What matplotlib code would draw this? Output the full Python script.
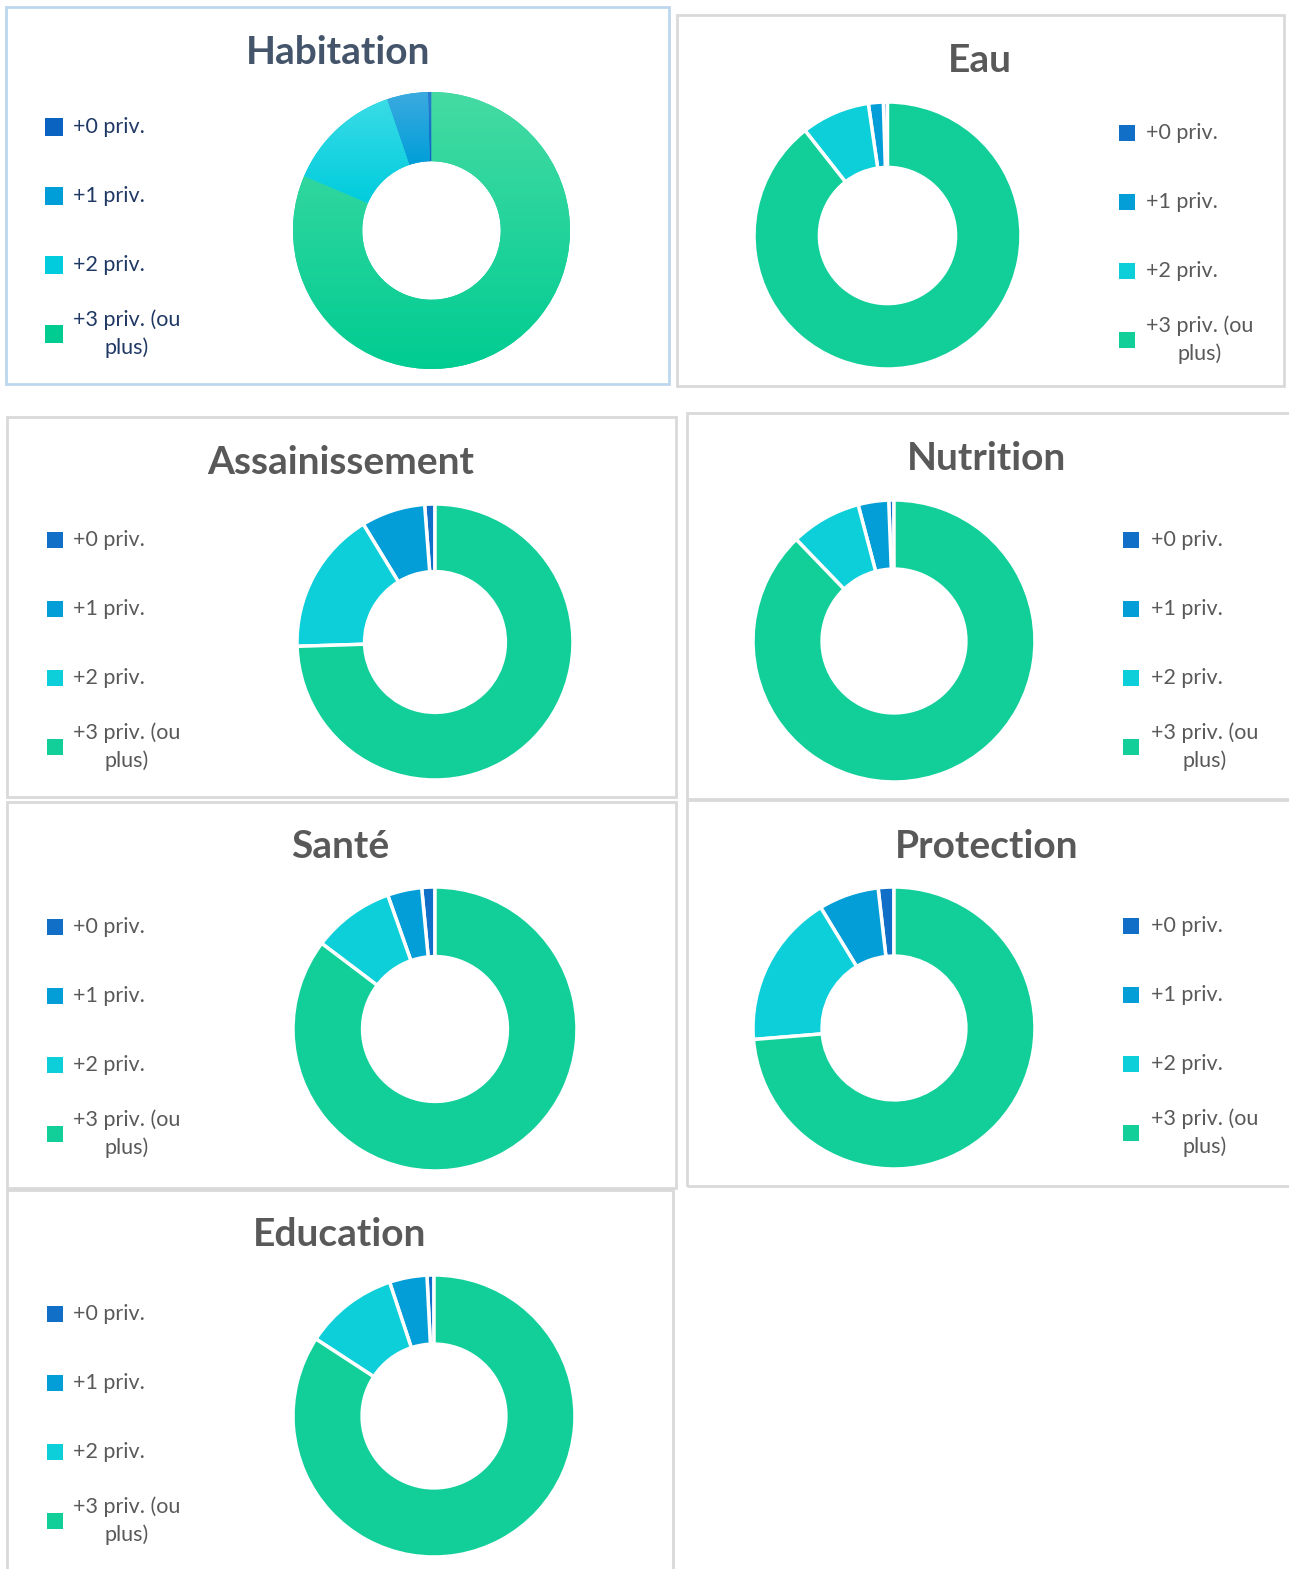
import matplotlib
matplotlib.use("Agg")
import matplotlib.pyplot as plt
import numpy as np
from matplotlib.patches import Rectangle
from matplotlib.colors import LinearSegmentedColormap

plt.rcParams['font.family'] = ['Lato', 'DejaVu Sans']

W, H = 1289, 1569

# data (shares in %)
categories = ['+0 priv.', '+1 priv.', '+2 priv.', '+3 priv. (ou\nplus)']
titles = ['Habitation', 'Eau', 'Assainissement', 'Nutrition', 'Santé', 'Protection', 'Education']
habitation = [0.4, 4.8, 13.4, 81.4]
eau = [0.5, 1.8, 8.3, 89.4]
assainissement = [1.2, 7.5, 16.8, 74.5]
nutrition = [0.6, 3.5, 8.1, 87.8]
sante = [1.5, 3.9, 9.3, 85.3]
protection = [1.8, 6.9, 17.6, 73.7]
education = [0.8, 4.3, 10.7, 84.2]
series = [habitation, eau, assainissement, nutrition, sante, protection, education]

colors = ['#116FC7', '#039ED8', '#0CCFDA', '#12CF9A']
# Habitation uses gradients (top, bottom)
grad_colors = [('#2A7FD0', '#0A63C0'), ('#3BAAE0', '#009ED8'),
               ('#3ADCE6', '#00CCDD'), ('#45DBA3', '#00CC92')]

# layout in pixels: panel box, donut (cx, cy, r), title (x, y), legend (square x, text x, first row y)
panels = [
    dict(box=(6, 7, 669, 384), donut=(431.5, 230.5, 138.5), title=(338, 52), leg=(45, 73, 127), sq=18),
    dict(box=(677, 15, 1284, 386), donut=(887.5, 235.5, 133.5), title=(980, 60), leg=(1119, 1146, 133), sq=16),
    dict(box=(7, 417, 676, 797), donut=(435, 642, 138), title=(341, 463), leg=(47, 73, 540), sq=16),
    dict(box=(687, 413, 1295, 799), donut=(894, 641, 141), title=(987, 459), leg=(1123, 1151, 540), sq=16),
    dict(box=(7, 802, 676, 1188), donut=(435, 1029, 142), title=(340, 847), leg=(47, 73, 927), sq=16),
    dict(box=(687, 800, 1295, 1186), donut=(894, 1028, 141), title=(987, 847), leg=(1123, 1151, 926), sq=16),
    dict(box=(7, 1190, 673, 1575), donut=(434, 1416, 141), title=(340, 1235), leg=(47, 73, 1314), sq=16),
]
row_step = 69

fig = plt.figure(figsize=(W / 100, H / 100), dpi=100)
fig.patch.set_facecolor('white')


def fx(x):
    return x / W


def fy(y):
    return 1 - y / H


for i, (title, vals, p) in enumerate(zip(titles, series, panels)):
    special = (i == 0)
    border = '#BDD7EE' if special else '#D9D9D9'
    tcol = '#44546A' if special else '#595959'
    lcol = '#203864' if special else '#595959'

    x0, y0, x1, y1 = p['box']
    fig.patches.append(Rectangle((fx(x0), fy(y1)), fx(x1 - x0), (y1 - y0) / H,
                                 transform=fig.transFigure, facecolor='none',
                                 edgecolor=border, linewidth=2, zorder=-1))

    fig.text(fx(p['title'][0]), fy(p['title'][1]), title, ha='center', va='center',
             fontsize=28, fontweight='bold', color=tcol)

    cx, cy, r = p['donut']
    ax = fig.add_axes([fx(cx - r), fy(cy + r), 2 * r / W, 2 * r / H])
    if special:
        wedges, _ = ax.pie(vals, startangle=90, counterclock=True, colors=colors,
                           wedgeprops=dict(width=0.5, edgecolor='none', linewidth=0))
        grad = np.linspace(0, 1, 256).reshape(-1, 1)
        for w, (top, bot) in zip(wedges, grad_colors):
            bb = w.get_path().get_extents()
            cmap = LinearSegmentedColormap.from_list('g', [top, bot])
            im = ax.imshow(grad, extent=(bb.x0, bb.x1, bb.y0, bb.y1), cmap=cmap,
                           origin='upper', aspect='auto', zorder=3)
            im.set_clip_path(w)
    else:
        wedges, _ = ax.pie(vals, startangle=90, counterclock=True, colors=colors,
                           wedgeprops=dict(width=0.49, edgecolor='white', linewidth=2.5))
    ax.set_xlim(-1.0, 1.0)
    ax.set_ylim(-1.0, 1.0)
    ax.set_aspect('equal')
    ax.axis('off')

    sx, tx, ry = p['leg']
    s = p['sq']
    for k, (lab, col) in enumerate(zip(categories, colors)):
        yc = ry + k * row_step
        fc = grad_colors[k][1] if special else col
        fig.patches.append(Rectangle((fx(sx), fy(yc + s / 2)), s / W, s / H,
                                     transform=fig.transFigure, facecolor=fc,
                                     edgecolor='none', zorder=2))
        t = fig.text(fx(tx), fy(yc), lab, ha='left', va='center', fontsize=15.5,
                     color=lcol, linespacing=1.45)
        t.set_multialignment('center')

fig.savefig('out.png', dpi=100, facecolor='white')
